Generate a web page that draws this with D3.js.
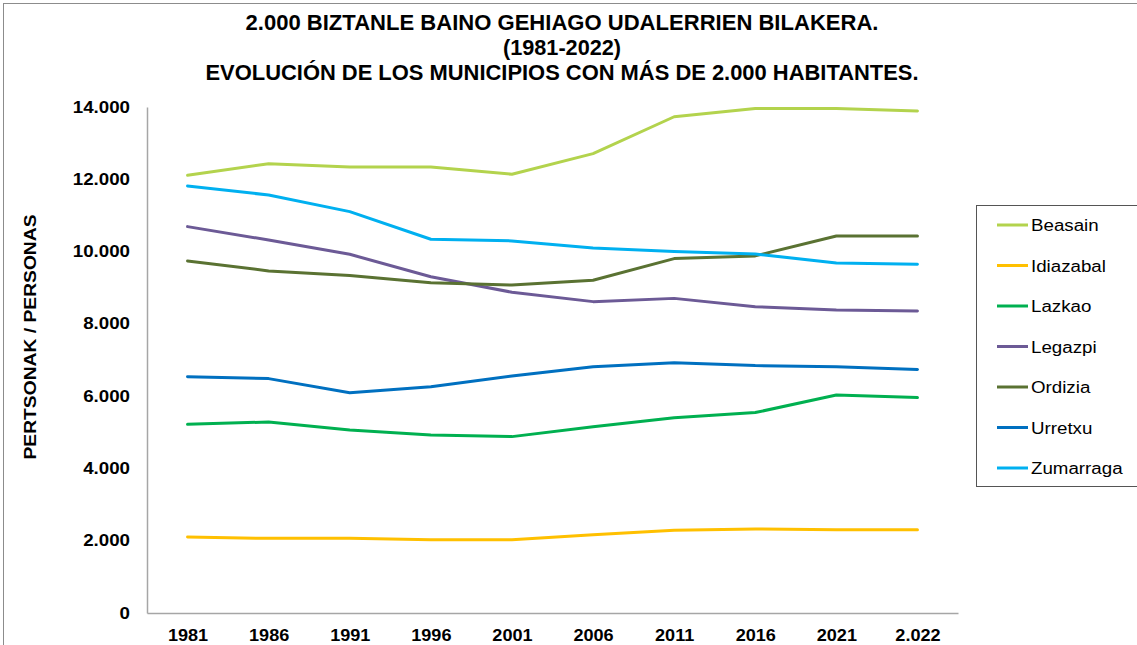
<!DOCTYPE html>
<html>
<head>
<meta charset="utf-8">
<script src="https://cdn.jsdelivr.net/npm/d3@7"></script>
<style>
  body { margin: 0; background: #fff; }
  text { font-family: "Liberation Sans", Arial, sans-serif; }
</style>
</head>
<body>
<div id="chart"></div>
<script>
var years = ['1981', '1986', '1991', '1996', '2001', '2006', '2011', '2016', '2021', '2.022'];
var towns = ['Beasain', 'Idiazabal', 'Lazkao', 'Legazpi', 'Ordizia', 'Urretxu', 'Zumarraga'];
var colors = ['#b3d34d', '#ffc000', '#00b050', '#6c5a96', '#5a7232', '#0070c0', '#00b0f0'];
var beasain = [12110, 12430, 12340, 12340, 12140, 12710, 13730, 13960, 13960, 13890];
var idiazabal = [2100, 2065, 2065, 2030, 2030, 2165, 2290, 2325, 2300, 2300];
var lazkao = [5220, 5285, 5065, 4925, 4880, 5155, 5405, 5545, 6030, 5960];
var legazpi = [10690, 10320, 9925, 9305, 8875, 8615, 8705, 8475, 8385, 8355];
var ordizia = [9740, 9465, 9335, 9140, 9075, 9205, 9805, 9880, 10430, 10430];
var urretxu = [6540, 6485, 6095, 6260, 6560, 6815, 6925, 6845, 6815, 6740];
var zumarraga = [11815, 11565, 11105, 10340, 10295, 10100, 10000, 9935, 9685, 9650];
var seriesValues = [beasain, idiazabal, lazkao, legazpi, ordizia, urretxu, zumarraga];
var yTicks = [0, 2000, 4000, 6000, 8000, 10000, 12000, 14000];
var titleLines = ['2.000 BIZTANLE BAINO GEHIAGO UDALERRIEN BILAKERA.', '(1981-2022)', 'EVOLUCIÓN DE LOS MUNICIPIOS CON MÁS DE 2.000 HABITANTES.'];
var titleWidths = [633, 118, 713];

var width = 1137, height = 645;
var svg = d3.select('#chart').append('svg').attr('width', width).attr('height', height);

// the original text is a bit wider than normal Arial, stretch it
function stretch(sel, k) {
    sel.each(function() {
        var w = this.getComputedTextLength();
        d3.select(this).attr('textLength', w * k).attr('lengthAdjust', 'spacingAndGlyphs');
    });
}

// outer chart border
svg.append('rect').attr('x', 3.5).attr('y', 3.5).attr('width', width + 10).attr('height', height + 10)
    .attr('fill', 'none').attr('stroke', '#8c8c8c').attr('stroke-width', 1);

var x = d3.scalePoint().domain(years).range([147, 958]).padding(0.5);
var y = d3.scaleLinear().domain([0, 14000]).range([613, 107]);
var fmt = function(v) { return d3.format(',')(v).replace(/,/g, '.'); };

// title
svg.append('g').selectAll('text').data(titleLines).enter().append('text')
    .attr('x', 562).attr('y', function(d, i) { return 30 + i * 25; })
    .attr('text-anchor', 'middle').attr('font-weight', 'bold').attr('font-size', 21.5)
    .attr('textLength', function(d, i) { return titleWidths[i]; })
    .attr('lengthAdjust', 'spacingAndGlyphs')
    .text(function(d) { return d; });

// y axis
var yAxis = svg.append('g').attr('transform', 'translate(147,0)')
    .call(d3.axisLeft(y).tickValues(yTicks).tickSize(0).tickPadding(17).tickFormat(fmt));
yAxis.select('.domain').attr('stroke', '#a6a6a6').attr('stroke-width', 1.5);
yAxis.selectAll('text').attr('font-size', 16).attr('font-weight', 'bold').attr('fill', '#000')
    .attr('font-family', '"Liberation Sans", Arial, sans-serif').call(stretch, 1.17);

// x axis
var xAxis = svg.append('g').attr('transform', 'translate(0,613)')
    .call(d3.axisBottom(x).tickSize(0).tickPadding(17));
xAxis.select('.domain').attr('stroke', '#a6a6a6').attr('stroke-width', 1.5);
xAxis.selectAll('text').attr('font-size', 16).attr('font-weight', 'bold').attr('fill', '#000')
    .attr('font-family', '"Liberation Sans", Arial, sans-serif').call(stretch, 1.13);

// y axis title
svg.append('text').attr('transform', 'translate(36,337) rotate(-90)')
    .attr('text-anchor', 'middle').attr('font-weight', 'bold').attr('font-size', 16)
    .attr('textLength', 245).attr('lengthAdjust', 'spacingAndGlyphs')
    .text('PERTSONAK / PERSONAS');

// lines
var line = d3.line().x(function(d, i) { return x(years[i]); }).y(function(d) { return y(d); });
svg.append('g').selectAll('path').data(seriesValues).enter().append('path')
    .attr('d', line).attr('fill', 'none')
    .attr('stroke', function(d, i) { return colors[i]; })
    .attr('stroke-width', 3).attr('stroke-linejoin', 'round').attr('stroke-linecap', 'round');

// legend
var legend = svg.append('g');
legend.append('rect').attr('x', 976.5).attr('y', 205.5).attr('width', 170).attr('height', 281)
    .attr('fill', '#fff').attr('stroke', '#555').attr('stroke-width', 1);
var item = legend.selectAll('.item').data(towns).enter().append('g').attr('class', 'item')
    .attr('transform', function(d, i) { return 'translate(0,' + (225 + i * 40.5) + ')'; });
item.append('line').attr('x1', 997).attr('x2', 1028).attr('y1', 0).attr('y2', 0)
    .attr('stroke', function(d, i) { return colors[i]; }).attr('stroke-width', 3);
item.append('text').attr('x', 1031).attr('y', 6).attr('font-size', 16)
    .text(function(d) { return d; }).call(stretch, 1.17);
</script>
</body>
</html>
